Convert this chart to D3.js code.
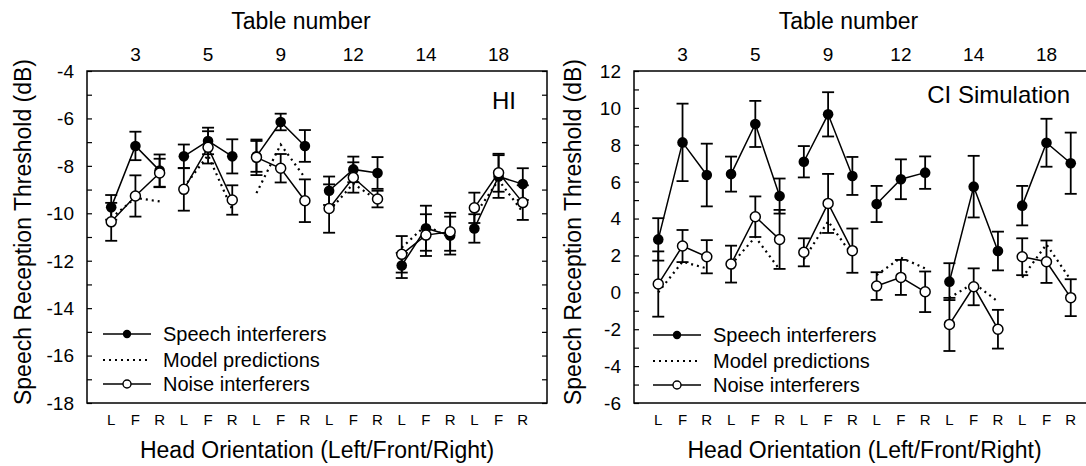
<!DOCTYPE html>
<html>
<head>
<meta charset="utf-8">
<script src="https://cdn.jsdelivr.net/npm/d3@7"></script>
<style>
  body { margin: 0; background: #fff; }
  text { font-family: "Liberation Sans", Arial, sans-serif; fill: #000; }
</style>
</head>
<body>
<div class="svg-container"></div>
<script>
// table numbers and head orientations
var tables = [3, 5, 9, 12, 14, 18];
var orientations = ["L", "F", "R"];

// HI panel (dB), 3 values per table: L, F, R
var hiSpeech    = [-9.75, -7.16, -8.2,  -7.6, -6.95, -7.6,  -7.6, -6.15, -7.16,  -9.05, -8.15, -8.3,  -12.2, -10.63, -10.94,  -10.64, -8.45, -8.77];
var hiSpeechErr = [0.52, 0.6, 0.68,  0.5, 0.56, 0.72,  0.65, 0.35, 0.67,  0.6, 0.54, 0.67,  0.53, 0.95, 0.8,  0.6, 0.9, 0.67];
var hiNoise     = [-10.36, -9.27, -8.3,  -8.99, -7.22, -9.44,  -7.64, -8.1, -9.47,  -9.8, -8.49, -9.4,  -11.73, -10.92, -10.78,  -9.77, -8.29, -9.55];
var hiNoiseErr  = [0.8, 0.87, 0.6,  0.9, 0.68, 0.62,  0.75, 0.6, 0.9,  1.02, 0.64, 0.35,  0.77, 0.88, 0.8,  0.64, 0.8, 0.73];
var hiModel     = [-10.2, -9.35, -9.5,  -8.9, -7.55, -9.85,  -9.15, -7.1, -8.5,  -9.9, -8.75, -9.45,  -11.45, -10.5, -11.05,  -10.1, -8.6, -9.95];

// CI simulation panel (dB)
var ciSpeech    = [2.87, 8.13, 6.36,  6.41, 9.13, 5.22,  7.08, 9.65, 6.31,  4.79, 6.13, 6.49,  0.58, 5.73, 2.24,  4.7, 8.11, 7.0];
var ciSpeechErr = [1.15, 2.1, 1.7,  0.95, 1.25, 0.95,  0.85, 1.2, 1.03,  0.98, 1.08, 0.88,  1.0, 1.67, 1.05,  1.07, 1.3, 1.66];
var ciNoise     = [0.45, 2.51, 1.93,  1.53, 4.1, 2.87,  2.17, 4.82, 2.26,  0.34, 0.81, 0.03,  -1.74, 0.3, -2.0,  1.93, 1.66, -0.29];
var ciNoiseErr  = [1.77, 0.87, 0.9,  1.0, 1.1, 1.6,  0.76, 1.6, 1.2,  0.75, 0.95, 1.1,  1.44, 1.0, 1.05,  1.0, 1.15, 1.0];
var ciModel     = [0.0, 1.66, 1.3,  1.5, 3.0, 1.24,  1.8, 3.85, 2.0,  0.94, 1.88, 1.3,  -0.3, 0.5, -0.5,  0.8, 2.6, 0.67];

var legendLabels = ["Speech interferers", "Model predictions", "Noise interferers"];

var fullWidth = 1086, fullHeight = 466;
var top_y = 71, bottom_y = 403;

var svg = d3.select(".svg-container")
    .append("svg")
    .attr("width", fullWidth)
    .attr("height", fullHeight);

function draw_panel(p) {
    var x = d3.scaleLinear().domain([-1, 18]).range([p.left, p.right]);
    var y = d3.scaleLinear().domain(p.yDomain).range([bottom_y, top_y]);
    var g = svg.append("g");

    // box
    g.append("rect")
        .attr("x", p.left).attr("y", top_y)
        .attr("width", p.right - p.left).attr("height", bottom_y - top_y)
        .attr("fill", "none").attr("stroke", "#000").attr("stroke-width", 1.5);

    // inside ticks on both sides, every 1 dB
    var allTicks = d3.range(p.yDomain[0], p.yDomain[1] + 1, 1);
    g.append("g").attr("transform", "translate(" + p.left + ",0)")
        .call(d3.axisRight(y).tickValues(allTicks).tickSize(5).tickFormat(""))
        .call(a => a.select(".domain").remove());
    g.append("g").attr("transform", "translate(" + p.right + ",0)")
        .call(d3.axisLeft(y).tickValues(allTicks).tickSize(5).tickFormat(""))
        .call(a => a.select(".domain").remove());
    g.selectAll(".tick line").attr("stroke", "#000").attr("stroke-width", 1.2);

    // y tick labels
    var labTicks = d3.range(p.yDomain[0], p.yDomain[1] + 1, 2);
    g.selectAll(".ylab").data(labTicks).enter().append("text")
        .attr("x", p.left - 13).attr("y", d => y(d)).attr("dy", "0.36em")
        .attr("text-anchor", "end").style("font-size", "19px")
        .text(d => d);

    // y title
    g.append("text")
        .attr("transform", "translate(" + p.yTitleX + ",232) rotate(-90)")
        .attr("dy", "0.36em").attr("text-anchor", "middle")
        .style("font-size", "23px")
        .text("Speech Reception Threshold (dB)");

    // top axis: table numbers
    g.selectAll(".tab").data(tables).enter().append("text")
        .attr("x", (d, i) => x(3 * i + 1)).attr("y", 61)
        .attr("text-anchor", "middle").style("font-size", "19px")
        .text(d => d);
    g.append("text")
        .attr("x", (p.left + p.right) / 2 - 16).attr("y", 29)
        .attr("text-anchor", "middle").style("font-size", "23px")
        .text("Table number");

    // bottom axis: L F R
    var idx = d3.range(18);
    g.selectAll(".ori").data(idx).enter().append("text")
        .attr("x", d => x(d)).attr("y", 425)
        .attr("text-anchor", "middle").style("font-size", "15px")
        .text(d => orientations[d % 3]);
    g.append("text")
        .attr("x", (p.left + p.right) / 2).attr("y", 458)
        .attr("text-anchor", "middle").style("font-size", "23px")
        .text("Head Orientation (Left/Front/Right)");

    // panel label
    g.append("text")
        .attr("x", p.labelX).attr("y", p.labelY)
        .attr("text-anchor", "end").style("font-size", "24px")
        .text(p.label);

    var line = d3.line().x(d => x(d.i)).y(d => y(d.v));
    function groups(vals) {
        return tables.map((t, k) => [0, 1, 2].map(j => ({i: 3 * k + j, v: vals[3 * k + j]})));
    }

    // model predictions (dotted)
    g.selectAll(".model").data(groups(p.model)).enter().append("path")
        .attr("d", line).attr("fill", "none")
        .attr("stroke", "#000").attr("stroke-width", 2.2)
        .attr("stroke-dasharray", "2,4");

    // data lines
    [p.speech, p.noise].forEach(function (vals) {
        g.selectAll(null).data(groups(vals)).enter().append("path")
            .attr("d", line).attr("fill", "none")
            .attr("stroke", "#000").attr("stroke-width", 1.5);
    });

    // error bars
    function err_bars(vals, errs) {
        var eb = g.append("g").attr("stroke", "#000").attr("stroke-width", 1.8);
        idx.forEach(function (i) {
            var lo = y(vals[i] - errs[i]), hi = y(vals[i] + errs[i]), cx = x(i);
            eb.append("line").attr("x1", cx).attr("x2", cx).attr("y1", lo).attr("y2", hi);
            eb.append("line").attr("x1", cx - 6).attr("x2", cx + 6).attr("y1", lo).attr("y2", lo);
            eb.append("line").attr("x1", cx - 6).attr("x2", cx + 6).attr("y1", hi).attr("y2", hi);
        });
    }
    err_bars(p.speech, p.speechErr);
    err_bars(p.noise, p.noiseErr);

    // markers
    g.selectAll(".sp").data(p.speech).enter().append("circle")
        .attr("cx", (d, i) => x(i)).attr("cy", d => y(d)).attr("r", 5.3)
        .attr("fill", "#000");
    g.selectAll(".no").data(p.noise).enter().append("circle")
        .attr("cx", (d, i) => x(i)).attr("cy", d => y(d)).attr("r", 5)
        .attr("fill", "#fff").attr("stroke", "#000").attr("stroke-width", 1.5);

    // legend
    var lg = g.append("g");
    legendLabels.forEach(function (lab, k) {
        var ly = p.legendY[k];
        var ln = lg.append("line")
            .attr("x1", p.legendX).attr("x2", p.legendX + 48)
            .attr("y1", ly).attr("y2", ly)
            .attr("stroke", "#000").attr("stroke-width", k == 1 ? 2.2 : 1.5);
        if (k == 1) ln.attr("stroke-dasharray", "2,4");
        if (k == 0) lg.append("circle").attr("cx", p.legendX + 24).attr("cy", ly).attr("r", 4.2).attr("fill", "#000");
        if (k == 2) lg.append("circle").attr("cx", p.legendX + 24).attr("cy", ly).attr("r", 4)
            .attr("fill", "#fff").attr("stroke", "#000").attr("stroke-width", 1.4);
        lg.append("text")
            .attr("x", p.legendX + 60).attr("y", ly).attr("dy", "0.36em")
            .style("font-size", "20px").text(lab);
    });
}

draw_panel({
    left: 87, right: 547, yDomain: [-18, -4], yTitleX: 23,
    speech: hiSpeech, speechErr: hiSpeechErr, noise: hiNoise, noiseErr: hiNoiseErr, model: hiModel,
    label: "HI", labelX: 516, labelY: 109,
    legendX: 103, legendY: [334, 360, 384]
});

draw_panel({
    left: 634, right: 1095, yDomain: [-6, 12], yTitleX: 573,
    speech: ciSpeech, speechErr: ciSpeechErr, noise: ciNoise, noiseErr: ciNoiseErr, model: ciModel,
    label: "CI Simulation", labelX: 1070, labelY: 103,
    legendX: 653, legendY: [335, 361, 385]
});
</script>
</body>
</html>
